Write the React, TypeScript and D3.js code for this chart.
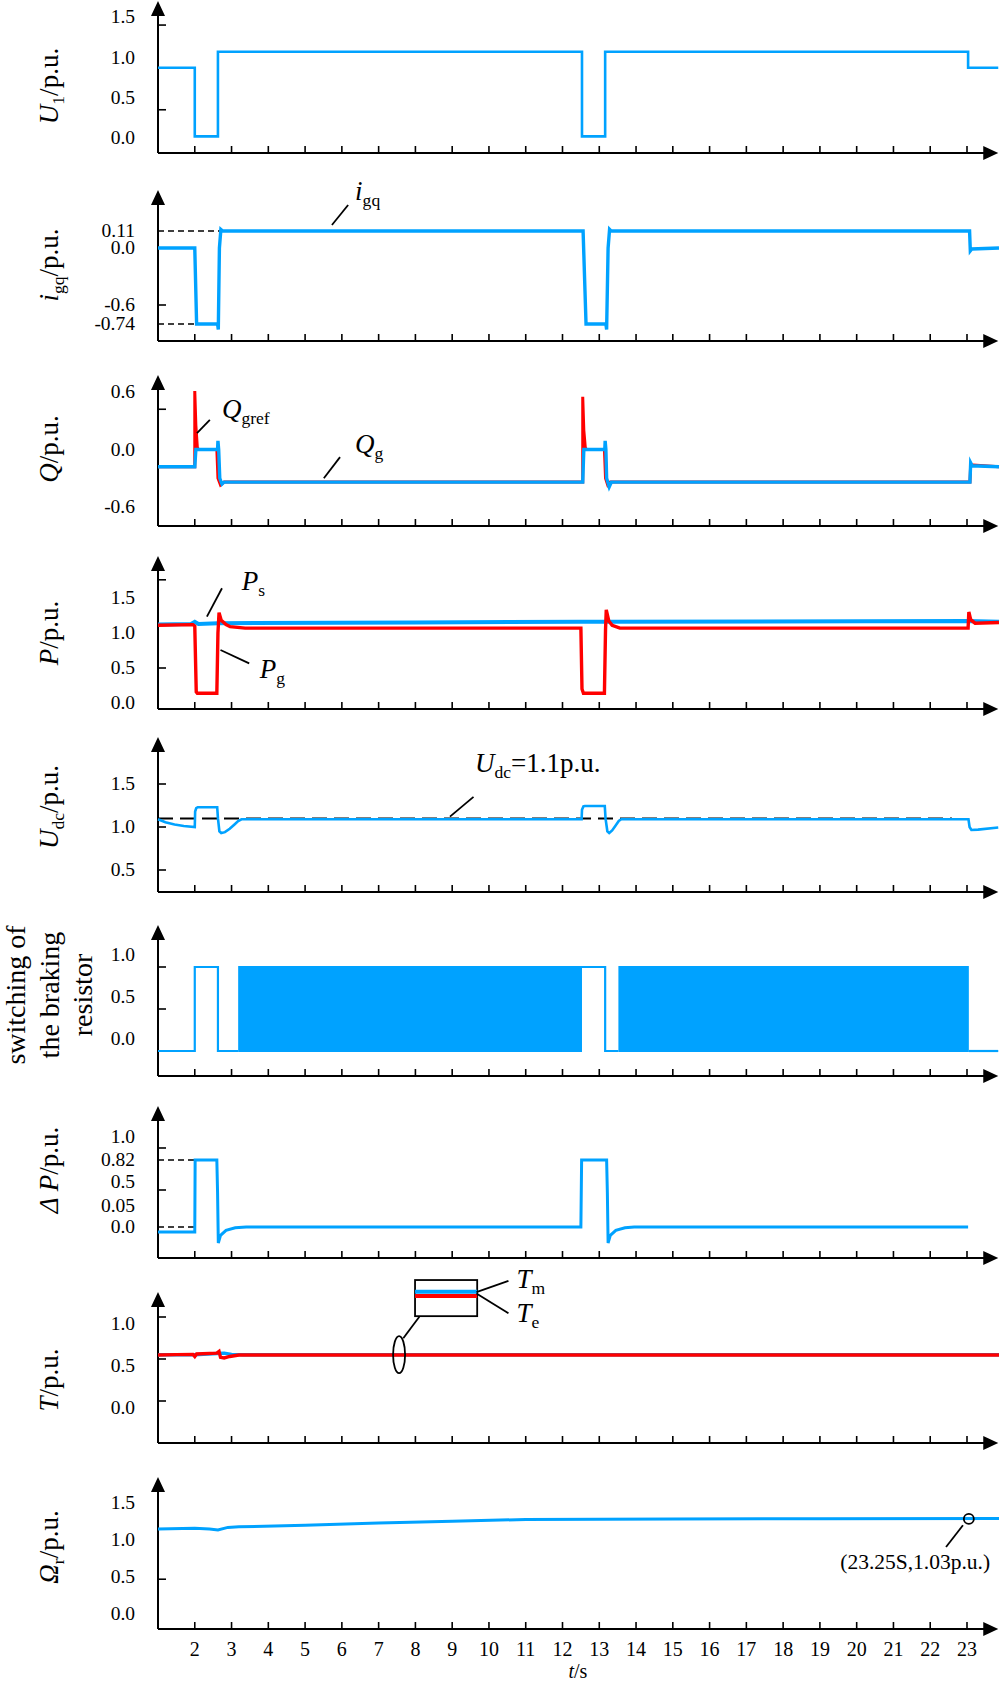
import React from 'react';
import * as d3 from 'd3';

type Pt = [number, number];

const BLUE = '#00a2ff';
const RED = '#ff0000';
const FONT = '"Liberation Serif", "Times New Roman", serif';

// time axis (s)
const timeTicks = d3.range(2, 24);
const T_AXIS_END = 23.85;

// U1
const u1Labels = [0.0, 0.5, 1.0, 1.5];
const u1Marks = [0.35, 1.4];
const u1: Pt[] = [[1, 0.87], [2.0, 0.87], [2.0, 0.02], [2.63, 0.02], [2.63, 1.07], [12.53, 1.07], [12.53, 0.02], [13.16, 0.02], [13.16, 1.07], [23.03, 1.07], [23.03, 0.87], [23.85, 0.87]];

// igq
const igqLabels = [-0.74, -0.6, 0.0, 0.11];
const igqMarks = [-0.6];
const igqRefLevels = [0.11, -0.74];
const igqRefEnds = [2.74, 2.0];
const igq: Pt[] = [[1, 0], [2.0, 0], [2.05, -0.74], [2.62, -0.74], [2.64, -0.78], [2.67, 0.0], [2.71, 0.12], [2.76, 0.11], [12.56, 0.11], [12.64, -0.74], [13.18, -0.74], [13.2, -0.78], [13.24, 0.0], [13.28, 0.12], [13.32, 0.11], [23.07, 0.11], [23.09, -0.03], [23.13, -0.01], [23.87, 0.0]];
const igqNote: Pt = [6.36, 0.31];
const igqLeader: Pt[] = [[5.73, 0.149], [6.17, 0.278]];

// Q
const qLabels = [-0.6, 0.0, 0.6];
const qMarks = [0.42];
const qg: Pt[] = [[1, -0.18], [2.0, -0.18], [2.03, 0.0], [2.62, 0.0], [2.63, 0.09], [2.65, 0.0], [2.68, -0.3], [2.74, -0.36], [2.8, -0.34], [12.55, -0.34], [12.58, 0.0], [13.15, 0.0], [13.16, 0.09], [13.18, 0.0], [13.2, -0.3], [13.27, -0.39], [13.33, -0.34], [23.08, -0.34], [23.1, -0.14], [23.14, -0.17], [23.87, -0.18]];
const qgref: Pt[] = [[1, -0.18], [2.0, -0.18], [2.0, 0.61], [2.03, 0.25], [2.07, 0.02], [2.1, 0.0], [2.6, 0.0], [2.63, -0.3], [2.7, -0.37], [2.8, -0.34], [12.55, -0.34], [12.55, 0.55], [12.58, 0.2], [12.62, 0.02], [12.65, 0.0], [13.14, 0.0], [13.17, -0.3], [13.23, -0.37], [13.3, -0.34], [23.08, -0.34], [23.1, -0.16], [23.87, -0.18]];
const qgrefNote: Pt = [2.74, 0.33];
const qgrefLeader: Pt[] = [[2.06, 0.17], [2.41, 0.31]];
const qgNote: Pt = [6.36, -0.04];
const qgLeader: Pt[] = [[5.51, -0.3], [5.95, -0.08]];

// P
const pLabels = [0.0, 0.5, 1.0, 1.5];
const pMarks = [0.5, 1.76];
const ps: Pt[] = [[1, 1.12], [1.9, 1.13], [2.0, 1.16], [2.1, 1.13], [2.63, 1.14], [8, 1.15], [12.5, 1.16], [13.2, 1.16], [23, 1.17], [23.87, 1.16]];
const pg: Pt[] = [[1, 1.11], [1.95, 1.12], [2.0, 1.1], [2.04, 0.16], [2.07, 0.14], [2.6, 0.14], [2.63, 1.0], [2.66, 1.29], [2.72, 1.18], [2.85, 1.12], [2.96, 1.09], [3.37, 1.07], [12.5, 1.07], [12.53, 0.2], [12.57, 0.14], [13.14, 0.14], [13.17, 1.05], [13.19, 1.33], [13.26, 1.17], [13.35, 1.11], [13.56, 1.07], [23.03, 1.07], [23.05, 1.3], [23.1, 1.19], [23.22, 1.14], [23.87, 1.15]];
const psNote: Pt = [3.28, 1.61];
const psLeader: Pt[] = [[2.33, 1.233], [2.74, 1.639]];
const pgNote: Pt = [3.77, 0.36];
const pgLeader: Pt[] = [[2.7, 0.757], [3.48, 0.567]];

// Udc
const udcLabels = [0.5, 1.0, 1.5];
const udcMarks = [0.5, 1.0, 1.5];
const udcRef = 1.1;
const udcRefEnd = 22.59;
const udc: Pt[] = [[1, 1.09], [1.2, 1.055], [1.45, 1.03], [1.7, 1.012], [2.0, 1.0], [2.01, 1.18], [2.04, 1.22], [2.08, 1.23], [2.61, 1.23], [2.63, 1.1], [2.67, 0.95], [2.72, 0.93], [2.82, 0.94], [2.95, 0.98], [3.08, 1.03], [3.18, 1.07], [3.27, 1.09], [12.52, 1.09], [12.53, 1.2], [12.57, 1.24], [12.61, 1.245], [13.15, 1.245], [13.17, 1.1], [13.22, 0.95], [13.27, 0.93], [13.35, 0.96], [13.45, 1.02], [13.53, 1.07], [13.6, 1.09], [23.04, 1.09], [23.07, 1.0], [23.12, 0.965], [23.3, 0.97], [23.85, 0.995]];
const udcNote: Pt = [9.62, 1.64];
const udcLeader: Pt[] = [[8.94, 1.12], [9.58, 1.35]];

// braking resistor switching
const swLabels = [0.0, 0.5, 1.0];
const swMarks = [0.5, 1.0];
const swLines: Pt[][] = [
  [[1, 0], [2.0, 0], [2.0, 1], [2.63, 1], [2.63, 0], [3.18, 0]],
  [[12.53, 1], [13.16, 1], [13.16, 0], [13.52, 0]],
  [[23.05, 0], [23.85, 0]],
];
const swBlocks: Pt[] = [[3.18, 12.53], [13.52, 23.05]];

// delta P
const dpLabels = [0.0, 0.05, 0.5, 0.82, 1.0];
const dpMarks = [0.35, 0.914];
const dpRefLevels = [0.82, 0.0];
const dpRefEnd = 2.0;
const dp: Pt[] = [[1, -0.012], [2.0, -0.012], [2.01, 0.82], [2.6, 0.82], [2.62, 0.3], [2.64, -0.038], [2.7, -0.02], [2.85, -0.008], [3.1, -0.002], [3.4, 0], [12.5, 0], [12.52, 0.82], [13.2, 0.82], [13.22, 0.3], [13.24, -0.038], [13.3, -0.02], [13.45, -0.008], [13.7, -0.002], [13.95, 0], [23.03, 0]];

// torque
const tLabels = [0.0, 0.5, 1.0];
const tMarks = [0.0, 0.5, 1.0];
const tm: Pt[] = [[1, 0.55], [2.0, 0.55], [2.6, 0.565], [2.8, 0.57], [3.0, 0.555], [3.3, 0.55], [23.87, 0.55]];
const te: Pt[] = [[1, 0.548], [1.5, 0.552], [1.95, 0.555], [2.0, 0.53], [2.05, 0.56], [2.6, 0.57], [2.66, 0.59], [2.7, 0.52], [2.8, 0.512], [2.95, 0.53], [3.2, 0.548], [23.87, 0.548]];
const tBoxT: Pt = [7.99, 9.68];
const tBoxV: Pt = [1.01, 1.44];
const tmBox: Pt[] = [[7.99, 1.3], [9.68, 1.3]];
const teBox: Pt[] = [[7.99, 1.25], [9.68, 1.25]];
const tmLeader: Pt[] = [[9.66, 1.297], [10.53, 1.43]];
const teLeader: Pt[] = [[9.66, 1.28], [10.53, 1.045]];
const tmNote: Pt = [10.75, 1.345];
const teNote: Pt = [10.75, 0.944];
const tEllipse: Pt = [7.556, 0.551];
const tEllipseLeader: Pt[] = [[7.67, 0.746], [8.107, 1.004]];

// rotor speed
const wLabels = [0.0, 0.5, 1.0, 1.5];
const wMarks = [0.47];
const wr: Pt[] = [[1, 1.15], [2.0, 1.16], [2.4, 1.15], [2.63, 1.135], [2.9, 1.17], [3.2, 1.178], [5, 1.2], [7, 1.23], [9, 1.255], [11, 1.277], [15, 1.284], [19, 1.288], [23.87, 1.29]];
const wMark: Pt = [23.05, 1.285];
const wLeader: Pt[] = [[22.89, 1.2], [22.43, 0.905]];
const wNote: Pt = [23.63, 0.608];

// panel layout (pixels)
interface Layout { top: number; bottom: number; domain: number[]; range: number[]; titleY: number; labelDy?: number }
const L: Record<string, Layout> = {
  u1: { top: 1, bottom: 153, domain: [0, 1.5], range: [138, 17], titleY: 86 },
  igq: { top: 190, bottom: 341, domain: [-0.74, -0.6, 0, 0.11], range: [324, 305, 248, 231], titleY: 265 },
  q: { top: 375, bottom: 526, domain: [-0.6, 0.6], range: [507, 392], titleY: 449 },
  p: { top: 556, bottom: 709, domain: [0, 1.5], range: [703, 598], titleY: 633 },
  udc: { top: 737, bottom: 892, domain: [0.5, 1.5], range: [870, 784], titleY: 807 },
  sw: { top: 925, bottom: 1076, domain: [0, 1], range: [1051, 967], titleY: 995, labelDy: -12 },
  dp: { top: 1106, bottom: 1258, domain: [0, 0.05, 0.5, 0.82, 1.0], range: [1227, 1206, 1182, 1160, 1137], titleY: 1170 },
  t: { top: 1292, bottom: 1443, domain: [0, 1], range: [1401, 1317], titleY: 1380, labelDy: 7 },
  w: { top: 1477, bottom: 1629, domain: [0, 1.5], range: [1614, 1503], titleY: 1547 },
};

const x = d3.scaleLinear().domain([1, 23]).range([158, 967]);
const makeY = (l: Layout) => d3.scaleLinear().domain(l.domain).range(l.range);
const fmt = (v: number) => (Math.abs(v * 10 - Math.round(v * 10)) < 1e-9 ? v.toFixed(1) : String(v));

const TITLE_X = 58;
const TITLE_SIZE = 27;
const NOTE_SIZE = 27;

function Rich({ px, py, size, main, sub, rest, italic = true, anchor = 'start', rotate = false }: {
  px: number; py: number; size: number; main: string; sub?: string; rest?: string; italic?: boolean; anchor?: string; rotate?: boolean;
}) {
  const shift = size * 0.22;
  return (
    <text x={px} y={py} fontSize={size} textAnchor={anchor} transform={rotate ? `rotate(-90 ${px} ${py})` : undefined}>
      <tspan fontStyle={italic ? 'italic' : 'normal'}>{main}</tspan>
      {sub ? <tspan fontSize={size * 0.65} dy={shift}>{sub}</tspan> : null}
      {rest ? <tspan dy={sub ? -shift : 0}>{rest}</tspan> : null}
    </text>
  );
}

function Axes({ l, labels, marks }: { l: Layout; labels: number[]; marks: number[] }) {
  const y = makeY(l);
  const x0 = x(1);
  const xEnd = x(T_AXIS_END);
  const dy = l.labelDy || 0;
  return (
    <g>
      <line x1={x0} y1={l.bottom} x2={x0} y2={l.top + 12} stroke="#000" strokeWidth={2} />
      <line x1={x0} y1={l.bottom} x2={xEnd - 12} y2={l.bottom} stroke="#000" strokeWidth={2} />
      <path d={`M${x0},${l.top}L${x0 - 7},${l.top + 15}L${x0 + 7},${l.top + 15}Z`} fill="#000" />
      <path d={`M${xEnd},${l.bottom}L${xEnd - 15},${l.bottom - 7}L${xEnd - 15},${l.bottom + 7}Z`} fill="#000" />
      {timeTicks.map(t => (
        <line key={t} x1={x(t)} x2={x(t)} y1={l.bottom} y2={l.bottom - 7} stroke="#000" strokeWidth={1.6} />
      ))}
      {marks.map(v => (
        <line key={v} x1={x0} x2={x0 + 8} y1={y(v)} y2={y(v)} stroke="#000" strokeWidth={1.6} />
      ))}
      {labels.map(v => (
        <text key={v} x={135} y={y(v) + dy} dy="0.33em" textAnchor="end" fontSize={19.5}>{fmt(v)}</text>
      ))}
    </g>
  );
}

const lineOf = (y: d3.ScaleLinear<number, number>) => d3.line<Pt>().x(d => x(d[0])).y(d => y(d[1]));

function Leader({ y, pts }: { y: d3.ScaleLinear<number, number>; pts: Pt[] }) {
  return <path d={lineOf(y)(pts) || ''} stroke="#000" strokeWidth={1.8} fill="none" />;
}

function Series({ y, pts, color, w }: { y: d3.ScaleLinear<number, number>; pts: Pt[]; color: string; w: number }) {
  return <path d={lineOf(y)(pts) || ''} stroke={color} strokeWidth={w} fill="none" />;
}

function Title({ l, main, sub, rest }: { l: Layout; main: string; sub?: string; rest?: string }) {
  return <Rich px={TITLE_X} py={l.titleY} size={TITLE_SIZE} main={main} sub={sub} rest={rest} anchor="middle" rotate />;
}

export default function App() {
  const yU = makeY(L.u1), yI = makeY(L.igq), yQ = makeY(L.q), yP = makeY(L.p), yD = makeY(L.udc);
  const yS = makeY(L.sw), yDp = makeY(L.dp), yT = makeY(L.t), yW = makeY(L.w);
  const x0 = x(1);

  return (
    <svg width={1000} height={1682} style={{ position: 'absolute', left: 0, top: 0, background: '#fff' }} fontFamily={FONT}>
      {/* U1 */}
      <Axes l={L.u1} labels={u1Labels} marks={u1Marks} />
      <Series y={yU} pts={u1} color={BLUE} w={2.6} />
      <Title l={L.u1} main="U" sub="1" rest="/p.u." />

      {/* igq */}
      <Axes l={L.igq} labels={igqLabels} marks={igqMarks} />
      {igqRefLevels.map((v, i) => (
        <line key={v} x1={x0} x2={x(igqRefEnds[i])} y1={yI(v)} y2={yI(v)} stroke="#000" strokeWidth={1.5} strokeDasharray="6 4" />
      ))}
      <Series y={yI} pts={igq} color={BLUE} w={3.4} />
      <Leader y={yI} pts={igqLeader} />
      <Rich px={x(igqNote[0])} py={yI(igqNote[1])} size={NOTE_SIZE} main="i" sub="gq" />
      <Title l={L.igq} main="i" sub="gq" rest="/p.u." />

      {/* Q */}
      <Axes l={L.q} labels={qLabels} marks={qMarks} />
      <Series y={yQ} pts={qgref} color={RED} w={3} />
      <Series y={yQ} pts={qg} color={BLUE} w={3.4} />
      <Leader y={yQ} pts={qgrefLeader} />
      <Rich px={x(qgrefNote[0])} py={yQ(qgrefNote[1])} size={NOTE_SIZE} main="Q" sub="gref" />
      <Leader y={yQ} pts={qgLeader} />
      <Rich px={x(qgNote[0])} py={yQ(qgNote[1])} size={NOTE_SIZE} main="Q" sub="g" />
      <Title l={L.q} main="Q" rest="/p.u." />

      {/* P */}
      <Axes l={L.p} labels={pLabels} marks={pMarks} />
      <Series y={yP} pts={ps} color={BLUE} w={4} />
      <Series y={yP} pts={pg} color={RED} w={3.4} />
      <Leader y={yP} pts={psLeader} />
      <Rich px={x(psNote[0])} py={yP(psNote[1])} size={NOTE_SIZE} main="P" sub="s" />
      <Leader y={yP} pts={pgLeader} />
      <Rich px={x(pgNote[0])} py={yP(pgNote[1])} size={NOTE_SIZE} main="P" sub="g" />
      <Title l={L.p} main="P" rest="/p.u." />

      {/* Udc */}
      <Axes l={L.udc} labels={udcLabels} marks={udcMarks} />
      <line x1={x0} x2={x(udcRefEnd)} y1={yD(udcRef)} y2={yD(udcRef)} stroke="#000" strokeWidth={2} strokeDasharray="15 7" />
      <Series y={yD} pts={udc} color={BLUE} w={2.6} />
      <Leader y={yD} pts={udcLeader} />
      <Rich px={x(udcNote[0])} py={yD(udcNote[1])} size={NOTE_SIZE} main="U" sub="dc" rest="=1.1p.u." />
      <Title l={L.udc} main="U" sub="dc" rest="/p.u." />

      {/* braking resistor */}
      <Axes l={L.sw} labels={swLabels} marks={swMarks} />
      {swBlocks.map(b => (
        <rect key={b[0]} x={x(b[0])} width={x(b[1]) - x(b[0])} y={yS(1) - 1} height={yS(0) - yS(1) + 2} fill={BLUE} />
      ))}
      {swLines.map((s, i) => <Series key={i} y={yS} pts={s} color={BLUE} w={2.2} />)}
      {['switching of', 'the braking', 'resistor'].map((s, i) => (
        <text key={s} x={25 + i * 33.5} y={L.sw.titleY} fontSize={28} textAnchor="middle" transform={`rotate(-90 ${25 + i * 33.5} ${L.sw.titleY})`}>{s}</text>
      ))}

      {/* delta P */}
      <Axes l={L.dp} labels={dpLabels} marks={dpMarks} />
      {dpRefLevels.map(v => (
        <line key={v} x1={x0} x2={x(dpRefEnd)} y1={yDp(v)} y2={yDp(v)} stroke="#000" strokeWidth={1.5} strokeDasharray="6 4" />
      ))}
      <Series y={yDp} pts={dp} color={BLUE} w={3} />
      <Title l={L.dp} main="Δ P" rest="/p.u." />

      {/* torque */}
      <Axes l={L.t} labels={tLabels} marks={tMarks} />
      <Series y={yT} pts={tm} color={BLUE} w={3.4} />
      <Series y={yT} pts={te} color={RED} w={3.4} />
      <rect x={x(tBoxT[0])} y={yT(tBoxV[1])} width={x(tBoxT[1]) - x(tBoxT[0])} height={yT(tBoxV[0]) - yT(tBoxV[1])} fill="#fff" stroke="#000" strokeWidth={1.8} />
      <Series y={yT} pts={tmBox} color={BLUE} w={4} />
      <Series y={yT} pts={teBox} color={RED} w={4} />
      <Leader y={yT} pts={tmLeader} />
      <Leader y={yT} pts={teLeader} />
      <Rich px={x(tmNote[0])} py={yT(tmNote[1])} size={NOTE_SIZE} main="T" sub="m" />
      <Rich px={x(teNote[0])} py={yT(teNote[1])} size={NOTE_SIZE} main="T" sub="e" />
      <ellipse cx={x(tEllipse[0])} cy={yT(tEllipse[1])} rx={6} ry={18.5} fill="none" stroke="#000" strokeWidth={1.8} />
      <Leader y={yT} pts={tEllipseLeader} />
      <Title l={L.t} main="T" rest="/p.u." />

      {/* rotor speed */}
      <Axes l={L.w} labels={wLabels} marks={wMarks} />
      <Series y={yW} pts={wr} color={BLUE} w={3} />
      <circle cx={x(wMark[0])} cy={yW(wMark[1])} r={5} fill="none" stroke="#000" strokeWidth={1.8} />
      <Leader y={yW} pts={wLeader} />
      <text x={x(wNote[0])} y={yW(wNote[1])} fontSize={21.5} textAnchor="end">(23.25S,1.03p.u.)</text>
      <Title l={L.w} main="Ω" sub="r" rest="/p.u." />

      {timeTicks.map(t => (
        <text key={t} x={x(t)} y={L.w.bottom + 27} fontSize={20} textAnchor="middle">{t}</text>
      ))}
      <Rich px={x(12.42)} py={L.w.bottom + 49} size={20} main="t" rest="/s" anchor="middle" />
    </svg>
  );
}
